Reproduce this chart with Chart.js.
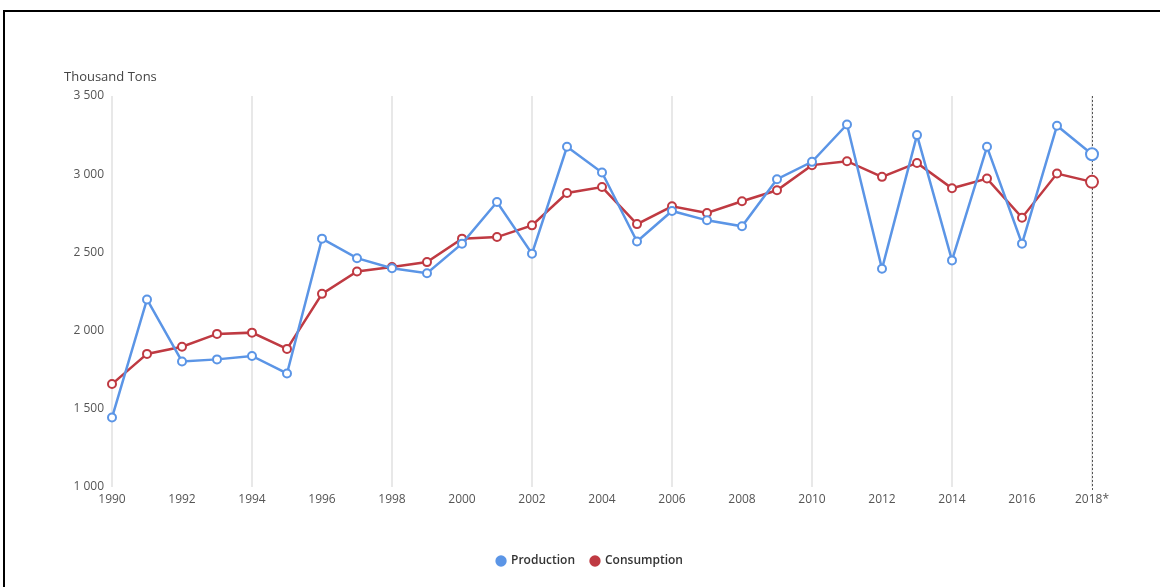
<!DOCTYPE html>
<html>
<head>
<meta charset="utf-8">
<script src="https://cdn.jsdelivr.net/npm/chart.js@4"></script>
<style>
  html, body { margin: 0; padding: 0; background: #fff; overflow: hidden; }
  #wrap { position: relative; width: 1160px; height: 587px; }
  #frame { position: absolute; left: 3px; top: 10px; width: 2000px; height: 2000px;
           border-top: 2px solid #000; border-left: 2px solid #000; pointer-events: none; }
</style>
</head>
<body>
<div id="wrap">
  <canvas id="chart" width="1160" height="587"></canvas>
  <div id="frame"></div>
</div>
<script>
const years = ['1990','1991','1992','1993','1994','1995','1996','1997','1998','1999',
               '2000','2001','2002','2003','2004','2005','2006','2007','2008','2009',
               '2010','2011','2012','2013','2014','2015','2016','2017','2018*'];

const production = [1444, 2199, 1803, 1816, 1838, 1726, 2588, 2463, 2399, 2367,
                    2556, 2822, 2492, 3175, 3011, 2570, 2765, 2705, 2667, 2968,
                    3079, 3318, 2395, 3250, 2449, 3175, 2556, 3310, 3128];

const consumption = [1658, 1851, 1897, 1979, 1987, 1883, 2235, 2378, 2406, 2438,
                     2588, 2598, 2673, 2880, 2918, 2681, 2795, 2752, 2827, 2897,
                     3058, 3083, 2983, 3072, 2910, 2972, 2722, 3004, 2951];

const yTicks = [1000, 1500, 2000, 2500, 3000, 3500];
const unitLabel = 'Thousand Tons';

const blue = '#5b95e6';
const red = '#bf3a42';
const lastIdx = years.length - 1;

// bigger markers on the last (hovered) point
const radii = years.map((_, i) => i === lastIdx ? 6 : 4);

// dotted hover line, unit label, legend nudged a bit right
const extras = {
    id: 'extras',
    afterLayout(chart) {
        chart.legend.left += 12;
        chart.legend.right += 12;
    },
    beforeDatasetsDraw(chart) {
        const ctx = chart.ctx;
        const x = chart.scales.x.getPixelForValue(lastIdx);
        ctx.save();
        ctx.strokeStyle = '#555';
        ctx.lineWidth = 1;
        ctx.setLineDash([2, 2]);
        ctx.beginPath();
        ctx.moveTo(Math.round(x) + 0.5, chart.chartArea.top);
        ctx.lineTo(Math.round(x) + 0.5, chart.chartArea.bottom + 4);
        ctx.stroke();
        ctx.restore();
    },
    afterDraw(chart) {
        const ctx = chart.ctx;
        ctx.save();
        ctx.font = '13px "Open Sans"';
        ctx.fillStyle = '#444';
        ctx.textBaseline = 'middle';
        ctx.fillText(unitLabel, 64, chart.chartArea.top - 19);
        ctx.restore();
    }
};

new Chart(document.getElementById('chart').getContext('2d'), {
    type: 'line',
    data: {
        labels: years,
        datasets: [{
            label: 'Production',
            data: production,
            borderColor: blue,
            backgroundColor: '#fff',
            borderWidth: 2.5,
            pointRadius: radii,
            pointBorderWidth: 2,
            pointBorderColor: blue,
            pointBackgroundColor: '#fff',
            tension: 0
        }, {
            label: 'Consumption',
            data: consumption,
            borderColor: red,
            backgroundColor: '#fff',
            borderWidth: 2.5,
            pointRadius: radii,
            pointBorderWidth: 2,
            pointBorderColor: red,
            pointBackgroundColor: '#fff',
            tension: 0
        }]
    },
    options: {
        responsive: false,
        animation: false,
        events: [],
        layout: { padding: { left: 64, right: 68, top: 96, bottom: 10 } },
        scales: {
            x: {
                offset: false,
                grid: {
                    drawTicks: false,
                    color: ctx => (ctx.index % 2 || ctx.index === lastIdx) ? 'transparent' : '#e8e8e8',
                    lineWidth: 2
                },
                border: { display: false },
                ticks: {
                    autoSkip: false,
                    maxRotation: 0,
                    padding: 5,
                    color: '#555',
                    font: { family: 'Open Sans', size: 12 },
                    callback: (v, i) => i % 2 ? null : years[i]
                },
                afterFit: s => { s.height = 52; }
            },
            y: {
                min: 1000,
                max: 3500,
                grid: { display: false, drawTicks: false },
                border: { display: false },
                afterBuildTicks: s => { s.ticks = yTicks.map(v => ({ value: v })); },
                ticks: {
                    padding: 8,
                    color: '#555',
                    font: { family: 'Open Sans', size: 12 },
                    callback: v => v.toLocaleString('en-US').replace(',', ' ')
                },
                afterFit: s => { s.width = 48; }
            }
        },
        plugins: {
            tooltip: { enabled: false },
            legend: {
                position: 'bottom',
                labels: {
                    usePointStyle: true,
                    pointStyle: 'circle',
                    boxWidth: 8,
                    boxHeight: 8,
                    padding: 16,
                    color: '#333',
                    font: { family: 'Open Sans', size: 12, weight: '600' },
                    generateLabels: chart =>
                        Chart.defaults.plugins.legend.labels.generateLabels(chart).map(l => ({
                            ...l, fillStyle: l.strokeStyle, lineWidth: 0
                        }))
                }
            }
        }
    },
    plugins: [extras]
});
</script>
</body>
</html>
